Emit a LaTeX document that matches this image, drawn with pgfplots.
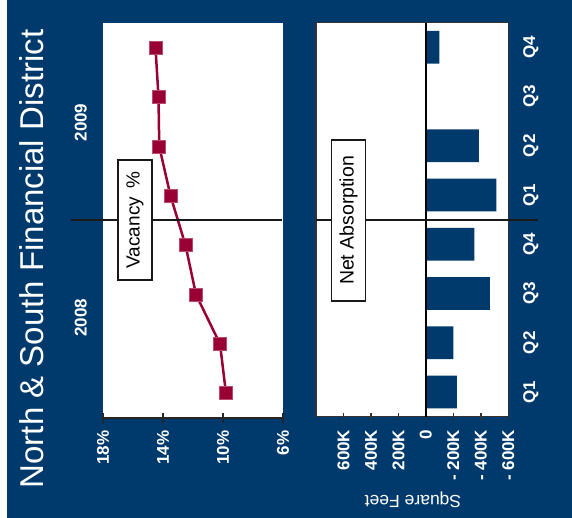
\documentclass[border=0pt]{standalone}
\usepackage{fontspec}
\setmainfont{Liberation Sans}
\usepackage{pgfplots}
\pgfplotsset{compat=1.18}
\definecolor{bgblue}{RGB}{0,58,108}
\definecolor{vred}{RGB}{153,0,51}
\begin{document}
\begin{tikzpicture}[x=1pt,y=1pt]
\path[use as bounding box] (0,0) rectangle (572,518);
\fill[white] (0,0) rectangle (572,518);
\fill[bgblue] (7,0) rectangle (572,518);
% Vacancy panel
\begin{axis}[
  at={(103pt,100pt)}, anchor=south west, scale only axis,
  width=180pt, height=395pt,
  x dir=reverse, xmin=6, xmax=18, ymin=0.5, ymax=8.5,
  axis x line=bottom, axis y line=none,
  x axis line style={-, line width=1.8pt, black!85},
  axis background/.style={fill=white},
  xtick={6,10,14,18}, xticklabels={6\%,10\%,14\%,18\%},
  xtick style={line width=1.8pt, black!85},
  tick align=center, major tick length=10pt,
  ytick=\empty,
  xticklabel shift=4pt,
  xticklabel style={rotate=90, anchor=east, text=white, font=\bfseries\fontsize{17}{17}\selectfont},
  clip=false,
]
\addplot[vred, line width=2.5pt, mark=square*, mark size=6.5pt,
  mark options={fill=vred, draw=vred!70!white, line width=0.8pt}]
  coordinates {(9.8,1) (10.2,2) (11.8,3) (12.5,4) (13.5,5) (14.25,6) (14.3,7) (14.5,8)};
\end{axis}
% Net absorption panel
\begin{axis}[
  at={(316pt,101.3pt)}, anchor=south west, scale only axis,
  width=192.3pt, height=394pt,
  x dir=reverse, xmin=-600, xmax=800, ymin=0.5, ymax=8.5,
  axis background/.style={fill=white},
  axis line style={black!80, line width=1.5pt},
  xbar, bar width=32.7pt,
  xtick={-600,-400,-200,0,200,400,600},
  xticklabels={-\ 600K,-\ 400K,-\ 200K,0,200K,400K,600K},
  xtick pos=bottom,
  xtick style={line width=1.5pt, black!80},
  tick align=center, major tick length=7pt,
  ytick={1,...,8}, yticklabels={Q1,Q2,Q3,Q4,Q1,Q2,Q3,Q4},
  ytick pos=right, yticklabel pos=right, ytick style={draw=none},
  xticklabel shift=6pt, yticklabel shift=8pt,
  yticklabel style={rotate=90, anchor=north, text=white, font=\bfseries\fontsize{17}{17}\selectfont},
  xticklabel style={rotate=90, anchor=east, text=white, font=\bfseries\fontsize{17}{17}\selectfont},
]
\addplot[fill=bgblue, draw=none] coordinates {(-225,1) (-200,2) (-465,3) (-353,4) (-514,5) (-385,6) (0,7) (-98,8)};
\draw[line width=2.5pt] (axis cs:0,0.5) -- (axis cs:0,8.5);
\end{axis}
% separators
\draw[line width=1.6pt, black!90] (71,298) -- (282,298);
\draw[line width=1.6pt, black!90] (316,298) -- (538,298);
% boxes
\node[draw=black!90, fill=white, line width=1.5pt, rotate=90, minimum width=120pt, minimum height=34pt,
  font=\fontsize{19}{19}\selectfont] at (135,298) {Vacancy \,\%};
\node[draw=black!90, fill=white, line width=1.5pt, rotate=90, minimum width=161pt, minimum height=33.6pt,
  font=\fontsize{19.5}{19.5}\selectfont] at (348.5,297.5) {Net Absorption};
% texts
\node[rotate=90, anchor=base, text=white, font=\fontsize{33}{33}\selectfont] at (43.5,259) {North \& South Financial District};
\node[rotate=90, anchor=base, text=white, font=\bfseries\fontsize{17}{17}\selectfont] at (86.7,395.5) {2009};
\node[rotate=90, anchor=base, text=white, font=\bfseries\fontsize{17}{17}\selectfont] at (86.7,200.2) {2008};
\node[rotate=180, anchor=base, text=white, font=\fontsize{17.5}{17.5}\selectfont] at (413,22) {Square Feet};
\end{tikzpicture}
\end{document}
